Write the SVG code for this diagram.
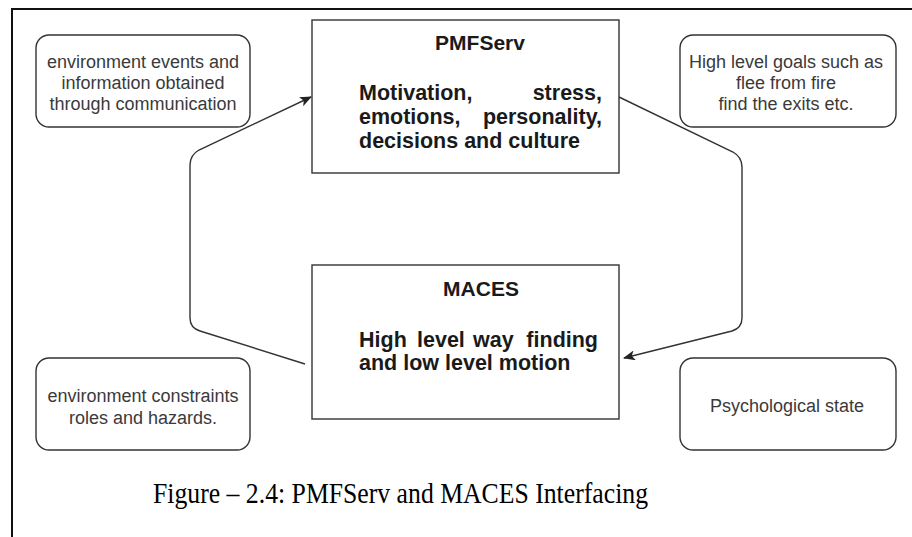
<svg xmlns="http://www.w3.org/2000/svg" width="912" height="537" viewBox="0 0 912 537">
  <style>
    .frame { fill: none; stroke: #111; stroke-width: 2; }
    .note { fill: #fff; stroke: #333; stroke-width: 1.4; }
    .block { fill: #fff; stroke: #333; stroke-width: 1.4; }
    .note-text { font-family: "Liberation Sans", Arial, sans-serif; font-size: 18px; fill: #3a3a3a; text-anchor: middle; }
    .title { font-family: "Liberation Sans", Arial, sans-serif; font-size: 21px; font-weight: bold; fill: #1a1a1a; text-anchor: middle; }
    .body { font-family: "Liberation Sans", Arial, sans-serif; font-size: 21.5px; font-weight: bold; fill: #1a1a1a; }
    .link { fill: none; stroke: #333; stroke-width: 1.4; }
    .caption { font-family: "Liberation Serif", "Times New Roman", serif; font-size: 29px; fill: #000; }
  </style>
  <defs>
    <marker id="arrow" viewBox="0 0 12 10" refX="11" refY="5" markerWidth="12" markerHeight="10" markerUnits="userSpaceOnUse" orient="auto">
      <path d="M0,0 L12,5 L0,10 L3,5 Z" fill="#222"/>
    </marker>
  </defs>

  <rect width="912" height="537" fill="#fff"/>
  <path class="frame" d="M12,537 L12,9 L912,9"/>

  <g id="connectors">
    <path class="link" marker-end="url(#arrow)" d="M305,364 L200,331 Q190,328 190,318 L190,165 Q190,155 199,150 L311,97"/>
    <path class="link" marker-end="url(#arrow)" d="M619,97 L733,152 Q742,157 742,167 L742,318 Q742,328 732,331 L624,358"/>
  </g>

  <g id="env-events">
    <rect class="note" x="36" y="35" width="214" height="92" rx="13"/>
    <text class="note-text" x="143" y="68">environment events and</text>
    <text class="note-text" x="143" y="89">information obtained</text>
    <text class="note-text" x="143" y="110">through communication</text>
  </g>

  <g id="pmfserv">
    <rect class="block" x="312" y="20" width="307" height="153"/>
    <text class="title" x="480" y="50">PMFServ</text>
    <text class="body" x="359" y="100">Motivation,</text>
    <text class="body" x="602" y="100" text-anchor="end">stress,</text>
    <text class="body" x="359" y="124">emotions,</text>
    <text class="body" x="602" y="124" text-anchor="end">personality,</text>
    <text class="body" x="359" y="148">decisions and culture</text>
  </g>

  <g id="goals">
    <rect class="note" x="680" y="35" width="216" height="92" rx="13"/>
    <text class="note-text" x="786" y="68">High level goals such as</text>
    <text class="note-text" x="786" y="89">flee from fire</text>
    <text class="note-text" x="786" y="110">find the exits etc.</text>
  </g>

  <g id="maces">
    <rect class="block" x="312" y="265" width="307" height="154"/>
    <text class="title" x="481" y="296">MACES</text>
    <text class="body" x="359" y="347">High</text>
    <text class="body" x="417" y="347">level</text>
    <text class="body" x="473" y="347">way</text>
    <text class="body" x="598" y="347" text-anchor="end">finding</text>
    <text class="body" x="359" y="370">and low level motion</text>
  </g>

  <g id="env-constraints">
    <rect class="note" x="36" y="358" width="214" height="92" rx="13"/>
    <text class="note-text" x="143" y="402">environment constraints</text>
    <text class="note-text" x="143" y="424">roles and hazards.</text>
  </g>

  <g id="psych-state">
    <rect class="note" x="680" y="358" width="216" height="92" rx="13"/>
    <text class="note-text" x="787" y="412">Psychological state</text>
  </g>

  <text class="caption" x="153" y="503" textLength="495" lengthAdjust="spacingAndGlyphs">Figure – 2.4: PMFServ and MACES Interfacing</text>
</svg>
